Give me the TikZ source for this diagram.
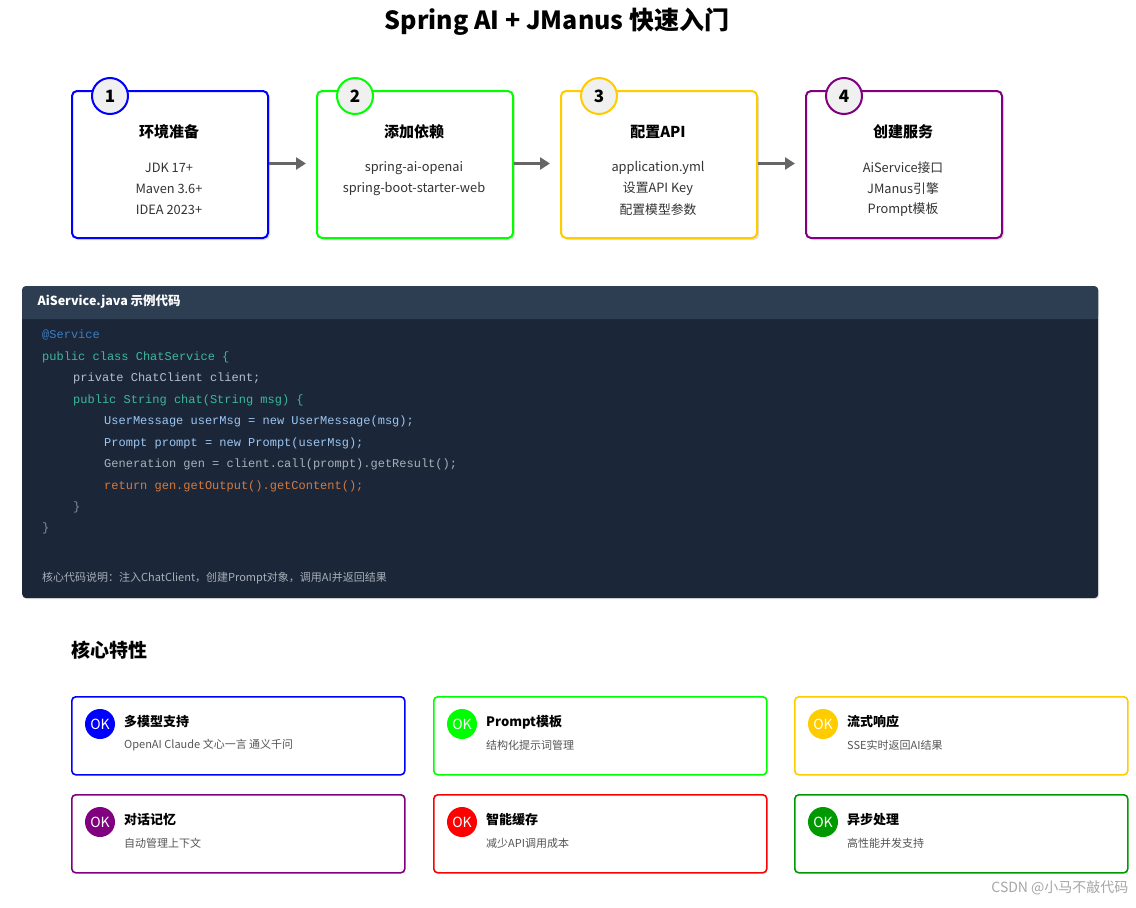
\documentclass[tikz,border=0pt]{standalone}
\usepackage{fontspec}
\setmainfont{Noto Sans CJK SC}
\newfontfamily\codefont{Liberation Mono}
\usetikzlibrary{arrows.meta,shadows}
\definecolor{cblue}{HTML}{0000FF}
\definecolor{cgreen}{HTML}{00FF00}
\definecolor{cyellow}{HTML}{FFCC00}
\definecolor{cpurple}{HTML}{800080}
\definecolor{cred}{HTML}{FF0000}
\definecolor{cdgreen}{HTML}{009900}
\definecolor{hdr}{HTML}{2E3E52}
\definecolor{body}{HTML}{1B2638}
\definecolor{kAt}{HTML}{3C7DC0}
\definecolor{kGreen}{HTML}{3DB89A}
\definecolor{kGray}{HTML}{B4C0D0}
\definecolor{kBlue}{HTML}{9CC6F2}
\definecolor{kGen}{HTML}{A8B0B8}
\definecolor{kOr}{HTML}{D27A42}
\definecolor{kBr}{HTML}{8090A0}
\definecolor{txt}{HTML}{333333}
\definecolor{desc}{HTML}{555555}
\begin{document}
\begin{tikzpicture}[x=1pt,y=-1pt,
  step/.style={draw=#1,line width=2pt,rounded corners=5pt,fill=white,drop shadow={opacity=0.25,shadow xshift=2pt,shadow yshift=-2pt}},
  num/.style={circle,draw=#1,line width=2pt,fill=gray!12,minimum size=36pt,inner sep=0pt,font=\bfseries\fontsize{17}{17}\selectfont},
  stitle/.style={font=\bfseries\fontsize{15}{15}\selectfont,text=black},
  sline/.style={font=\fontsize{12.8}{12.8}\selectfont,text=txt},
  arr/.style={draw=gray!80!black,line width=2.5pt,-{Triangle[length=10pt,width=12pt]}},
  code/.style={anchor=west,inner sep=0pt,font=\codefont\fontsize{12}{12}\selectfont},
  feat/.style={draw=#1,line width=1.6pt,rounded corners=4pt,fill=white},
  ok/.style={circle,fill=#1,minimum size=30pt,inner sep=0pt,text=white,font=\fontsize{14}{14}\selectfont},
  ftitle/.style={anchor=west,inner sep=0pt,font=\bfseries\fontsize{13}{13}\selectfont},
  fdesc/.style={anchor=west,inner sep=0pt,font=\fontsize{11}{11}\selectfont,text=desc}]
\useasboundingbox (0,0) rectangle (1136,908);
\fill[white] (0,0) rectangle (1136,908);
\node[font=\bfseries\fontsize{25}{25}\selectfont] (title) at (557,22) {Spring AI + JManus 快速入门};
\foreach \i/\x/\c/\t/\a/\b/\cc in {1/71/cblue/环境准备/JDK 17+/Maven 3.6+/IDEA 2023+,
  2/316/cgreen/添加依赖/spring-ai-openai/spring-boot-starter-web/,
  3/560/cyellow/配置API/application.yml/设置API Key/配置模型参数,
  4/805/cpurple/创建服务/AiService接口/JManus引擎/Prompt模板}{
  \node[step=\c,minimum width=196pt,minimum height=147pt,anchor=north west] (s\i) at (\x,90) {};
  \node[num=\c] (n\i) at (\x+39,96) {\i};
  \node[stitle] (st\i) at (\x+98,132) {\t};
  \node[sline] (sa\i) at (\x+98,168) {\a};
  \node[sline] (sb\i) at (\x+98,189) {\b};
  \node[sline] (sc\i) at (\x+98,210) {\cc};
}
\draw[arr] ([yshift=1pt]s1.east) -- ([yshift=1pt,xshift=-10pt]s2.west);
\draw[arr] ([yshift=1pt]s2.east) -- ([yshift=1pt,xshift=-10pt]s3.west);
\draw[arr] ([yshift=1pt]s3.east) -- ([yshift=1pt,xshift=-10pt]s4.west);
\node[fill=body,rounded corners=4pt,minimum width=1076pt,minimum height=312pt,anchor=north west,drop shadow={opacity=0.2,shadow xshift=1pt,shadow yshift=-1pt}] (panel) at (22,286) {};
\fill[hdr,rounded corners=4pt] (22,286) rectangle (1098,319);
\fill[hdr] (22,305) rectangle (1098,319);
\node[anchor=west,text=white,font=\bfseries\fontsize{12.5}{12.5}\selectfont] (hd) at (34,302) {AiService.java 示例代码};
\node[code,text=kAt] (c1) at (42,335) {@Service};
\node[code,text=kGreen] (c2) at (42,357) {public class ChatService \{};
\node[code,text=kGray] (c3) at (73,378) {private ChatClient client;};
\node[code,text=kGreen] (c4) at (73,400) {public String chat(String msg) \{};
\node[code,text=kBlue] (c5) at (104,421) {UserMessage userMsg = new UserMessage(msg);};
\node[code,text=kBlue] (c6) at (104,443) {Prompt prompt = new Prompt(userMsg);};
\node[code,text=kGen] (c7) at (104,464) {Generation gen = client.call(prompt).getResult();};
\node[code,text=kOr] (c8) at (104,486) {return gen.getOutput().getContent();};
\node[code,text=kBr] (c9) at (73,507) {\}};
\node[code,text=kBr] (c10) at (42,528) {\}};
\node[anchor=west,inner sep=0pt,text=kGen,font=\fontsize{11}{11}\selectfont] (note) at (42,578) {核心代码说明：注入ChatClient，创建Prompt对象，调用AI并返回结果};
\node[anchor=west,inner sep=0pt,font=\bfseries\fontsize{19}{19}\selectfont] (core) at (71,650) {核心特性};
\foreach \k/\x/\y/\c/\t/\d in {1/71/696/cblue/多模型支持/OpenAI Claude 文心一言 通义千问,
  2/433/696/cgreen/Prompt模板/结构化提示词管理,
  3/794/696/cyellow/流式响应/SSE实时返回AI结果,
  4/71/794/cpurple/对话记忆/自动管理上下文,
  5/433/794/cred/智能缓存/减少API调用成本,
  6/794/794/cdgreen/异步处理/高性能并发支持}{
  \node[feat=\c,minimum width=333pt,minimum height=78pt,anchor=north west] (f\k) at (\x,\y) {};
  \node[ok=\c] (o\k) at (\x+29,\y+28) {OK};
  \node[ftitle] (ft\k) at (\x+53,\y+26) {\t};
  \node[fdesc] (fd\k) at (\x+53,\y+49) {\d};
}
\node[anchor=east,text=gray!70,font=\fontsize{14}{14}\selectfont] (wm) at (1132,888) {CSDN @小马不敲代码};
\end{tikzpicture}
\end{document}
